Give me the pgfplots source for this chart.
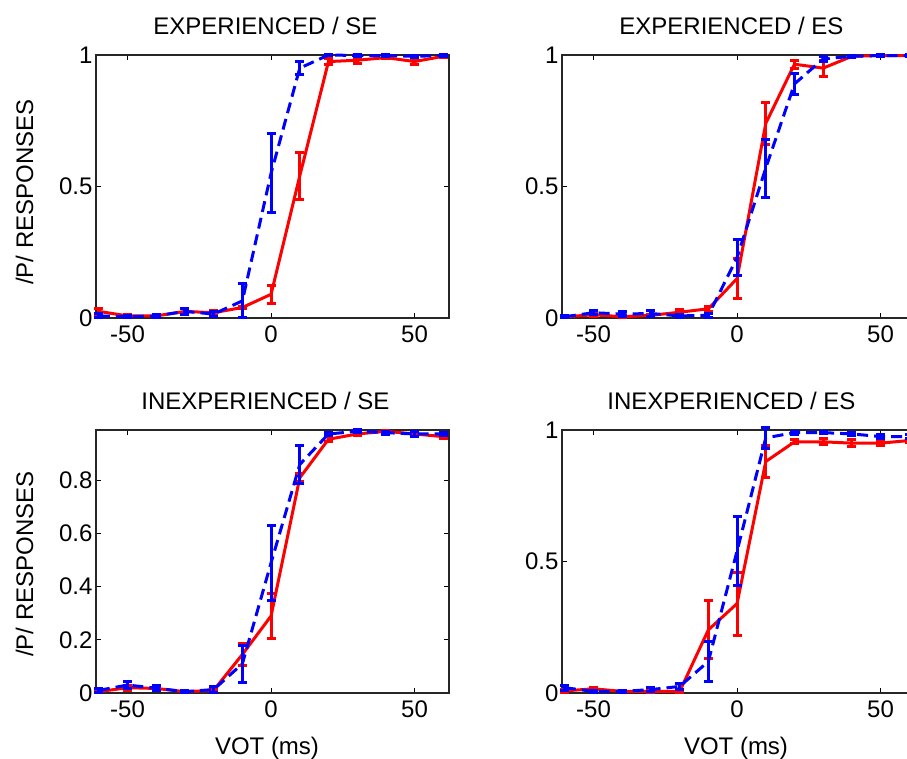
\documentclass[border=0pt]{standalone}
\usepackage{fontspec}
\setmainfont{Liberation Sans}
\usepackage{pgfplots}
\pgfplotsset{compat=1.18}
\definecolor{mred}{RGB}{255,0,0}
\definecolor{mblue}{RGB}{0,0,255}
\newcommand{\bigf}{\fontsize{24}{28}\selectfont}
\pgfplotsset{
  every error bar/.append style={line width=3pt},
  panel/.style={
    scale only axis, width=353pt, height=263pt, anchor=south west,
    xmin=-61, xmax=62, xtick={-50,0,50}, xticklabels={-50,0,50},
    tick align=inside, major tick length=5pt,
    tick style={black, line width=1pt},
    axis line style={line width=1.5pt, black!85},
    ticklabel style={font=\bigf},
    xticklabel style={yshift=-4pt},
    clip=false,
  },
  redl/.style={mred, line width=3pt, mark=none,
    error bars/.cd, y dir=both, y explicit,
    error bar style={line width=3pt, mred, solid},
    error mark options={rotate=90, mark size=4.5pt, line width=3pt, mred, solid}},
  bluel/.style={mblue, line width=3pt, mark=none, dash pattern=on 11pt off 6pt,
    error bars/.cd, y dir=both, y explicit,
    error bar style={line width=3pt, mblue, solid},
    error mark options={rotate=90, mark size=4.5pt, line width=3pt, mblue, solid}},
}
\begin{document}
\begin{tikzpicture}
% ---------- top left
\begin{axis}[panel, at={(96pt,441pt)}, ymin=0, ymax=1, ytick={0,0.5,1}, yticklabels={0,0.5,1}]
\addplot[redl] coordinates {
(-60,0.025) +- (0,0.012) (-50,0.008) +- (0,0.005) (-40,0.008) +- (0,0.005)
(-30,0.025) +- (0,0.01) (-20,0.02) +- (0,0.01) (-10,0.04) +- (0,0.005)
(0,0.09) +- (0,0.035) (10,0.54) +- (0,0.09) (20,0.975) +- (0,0.01)
(30,0.98) +- (0,0.012) (40,0.99) +- (0,0.005) (50,0.975) +- (0,0.012) (60,0.995) +- (0,0.005)};
\addplot[bluel] coordinates {
(-60,0.008) +- (0,0.008) (-50,0.005) +- (0,0.005) (-40,0.008) +- (0,0.005)
(-30,0.025) +- (0,0.01) (-20,0.015) +- (0,0.01) (-10,0.065) +- (0,0.065)
(0,0.55) +- (0,0.15) (10,0.95) +- (0,0.025) (20,1.0) +- (0,0.003)
(30,0.998) +- (0,0.003) (40,0.998) +- (0,0.003) (50,0.995) +- (0,0.004) (60,0.998) +- (0,0.003)};
\node[anchor=base, font=\bigf] at (rel axis cs:0.48,1) [yshift=20pt] {EXPERIENCED / SE};
\end{axis}
% ---------- top right
\begin{axis}[panel, at={(562pt,441pt)}, ymin=0, ymax=1, ytick={0,0.5,1}, yticklabels={0,0.5,1}]
\addplot[redl] coordinates {
(-60,0.005) +- (0,0.004) (-50,0.012) +- (0,0.005) (-40,0.005) +- (0,0.004)
(-30,0.01) +- (0,0.005) (-20,0.022) +- (0,0.01) (-10,0.035) +- (0,0.01)
(0,0.15) +- (0,0.075) (10,0.74) +- (0,0.08) (20,0.965) +- (0,0.015)
(30,0.95) +- (0,0.03) (40,0.995) +- (0,0.004) (50,0.998) +- (0,0.003) (60,0.998) +- (0,0.003)};
\addplot[bluel] coordinates {
(-60,0.005) +- (0,0.004) (-50,0.02) +- (0,0.008) (-40,0.015) +- (0,0.008)
(-30,0.017) +- (0,0.01) (-20,0.008) +- (0,0.005) (-10,0.01) +- (0,0.008)
(0,0.23) +- (0,0.07) (10,0.57) +- (0,0.11) (20,0.89) +- (0,0.04)
(30,0.985) +- (0,0.01) (40,0.995) +- (0,0.004) (50,0.998) +- (0,0.003) (60,0.998) +- (0,0.003)};
\node[anchor=base, font=\bigf] at (rel axis cs:0.48,1) [yshift=20pt] {EXPERIENCED / ES};
\end{axis}
% ---------- bottom left
\begin{axis}[panel, at={(96pt,66pt)}, ymin=0, ymax=0.99, ytick={0,0.2,0.4,0.6,0.8}, yticklabels={0,0.2,0.4,0.6,0.8}]
\addplot[redl] coordinates {
(-60,0.005) +- (0,0.004) (-50,0.02) +- (0,0.01) (-40,0.017) +- (0,0.006)
(-30,0.005) +- (0,0.004) (-20,0.01) +- (0,0.005) (-10,0.145) +- (0,0.04)
(0,0.29) +- (0,0.085) (10,0.81) +- (0,0.015) (20,0.955) +- (0,0.01)
(30,0.975) +- (0,0.005) (40,0.985) +- (0,0.004) (50,0.975) +- (0,0.005) (60,0.965) +- (0,0.006)};
\addplot[bluel] coordinates {
(-60,0.01) +- (0,0.008) (-50,0.03) +- (0,0.012) (-40,0.018) +- (0,0.01)
(-30,0.005) +- (0,0.004) (-20,0.013) +- (0,0.01) (-10,0.11) +- (0,0.07)
(0,0.49) +- (0,0.14) (10,0.86) +- (0,0.07) (20,0.975) +- (0,0.005)
(30,0.985) +- (0,0.005) (40,0.98) +- (0,0.006) (50,0.975) +- (0,0.008) (60,0.975) +- (0,0.005)};
\node[anchor=base, font=\bigf] at (rel axis cs:0.48,1) [yshift=20pt] {INEXPERIENCED / SE};
\end{axis}
% ---------- bottom right
\begin{axis}[panel, at={(562pt,66pt)}, ymin=0, ymax=1, ytick={0,0.5,1}, yticklabels={0,0.5,1}]
\addplot[redl] coordinates {
(-60,0.008) +- (0,0.006) (-50,0.016) +- (0,0.006) (-40,0.006) +- (0,0.004)
(-30,0.006) +- (0,0.004) (-20,0.006) +- (0,0.004) (-10,0.24) +- (0,0.11)
(0,0.34) +- (0,0.12) (10,0.88) +- (0,0.06) (20,0.955) +- (0,0.008)
(30,0.955) +- (0,0.012) (40,0.95) +- (0,0.012) (50,0.95) +- (0,0.008) (60,0.96) +- (0,0.006)};
\addplot[bluel] coordinates {
(-60,0.02) +- (0,0.01) (-50,0.006) +- (0,0.004) (-40,0.006) +- (0,0.004)
(-30,0.013) +- (0,0.008) (-20,0.025) +- (0,0.01) (-10,0.12) +- (0,0.075)
(0,0.54) +- (0,0.13) (10,0.97) +- (0,0.04) (20,0.99) +- (0,0.006)
(30,0.99) +- (0,0.005) (40,0.985) +- (0,0.006) (50,0.975) +- (0,0.008) (60,0.975) +- (0,0.006)};
\node[anchor=base, font=\bigf] at (rel axis cs:0.48,1) [yshift=20pt] {INEXPERIENCED / ES};
\end{axis}
% ---------- axis labels
\node[rotate=90, anchor=base, font=\bigf] at (33pt,567pt) {/P/ RESPONSES};
\node[rotate=90, anchor=base, font=\bigf] at (33pt,195pt) {/P/ RESPONSES};
\node[anchor=base, font=\bigf] at (267pt,4pt) {VOT (ms)};
\node[anchor=base, font=\bigf] at (736pt,4pt) {VOT (ms)};
\pgfresetboundingbox
\path[use as bounding box] (0pt,0pt) rectangle (907pt,759pt);
\end{tikzpicture}
\end{document}
